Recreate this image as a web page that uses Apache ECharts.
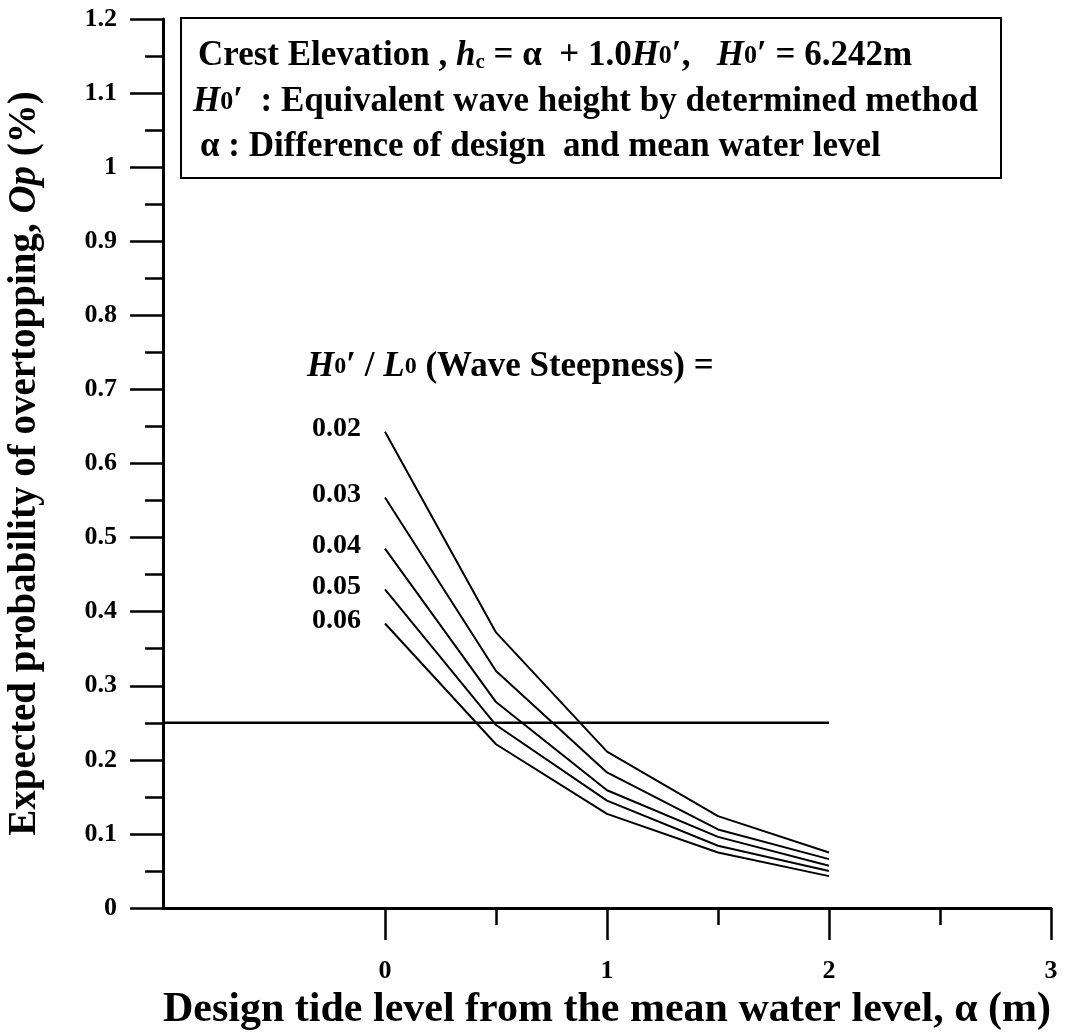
<!DOCTYPE html>
<html><head><meta charset="utf-8">
<script src="https://cdn.jsdelivr.net/npm/echarts@6/dist/echarts.min.js"></script>
<style>html,body{margin:0;padding:0;background:#fff}#c{width:1072px;height:1036px}</style>
</head><body><div id="c"></div>
<script>
// ---- data ----
const alphaValues = [0, 0.5, 1, 1.5, 2];
const steepness = ['0.02', '0.03', '0.04', '0.05', '0.06'];
const op002 = [0.643, 0.372, 0.211, 0.124, 0.075];
const op003 = [0.554, 0.320, 0.183, 0.106, 0.066];
const op004 = [0.485, 0.278, 0.159, 0.096, 0.057];
const op005 = [0.430, 0.247, 0.145, 0.084, 0.050];
const op006 = [0.384, 0.221, 0.127, 0.075, 0.043];
const thresholdValue = 0.25;
const thresholdRange = [-1, 2];
const xMajorTicks = [0, 1, 2, 3];
const xMinorTicks = [0.5, 1.5, 2.5];
const xRange = [-1, 3];
const yRange = [0, 1.2];

const F = "'Liberation Serif','Times New Roman',Times,serif";
const seriesValues = [op002, op003, op004, op005, op006];

const lineSeries = seriesValues.map((vals, k) => ({
  name: steepness[k],
  type: 'line',
  symbol: 'circle',
  symbolSize: 0,
  showSymbol: true,
  lineStyle: { color: '#000', width: 2 },
  itemStyle: { color: '#000' },
  label: {
    show: false, position: 'left', distance: 24, offset: [0, -3],
    formatter: p => p.seriesName,
    fontFamily: F, fontWeight: 'bold', fontSize: 28, color: '#000'
  },
  emphasis: { disabled: true },
  data: alphaValues.map((a, i) => i === 0 ? { value: [a, vals[i]], label: { show: true } } : [a, vals[i]])
}));

const txt = (size) => ({ fontFamily: F, fontWeight: 'bold', fontSize: size, color: '#000' });
const boxRich = {
  n: txt(35),
  i: Object.assign(txt(35), { fontStyle: 'italic' }),
  s: Object.assign(txt(21), { verticalAlign: 'bottom', padding: [10, 0, 0, 0] }),
  z: txt(26)
};

const option = {
  animation: false,
  backgroundColor: '#fff',
  grid: { left: 163, right: 21, top: 19, bottom: 128, outerBoundsMode: 'none', containLabel: false },
  xAxis: [{
    type: 'value', min: xRange[0], max: xRange[1], interval: 1,
    axisLine: { show: true, onZero: false, lineStyle: { color: '#000', width: 3 } },
    axisTick: { show: true, customValues: xMajorTicks, length: 32, lineStyle: { color: '#000', width: 2.5 } },
    axisLabel: { show: true, customValues: xMajorTicks, margin: 50, fontFamily: F, fontWeight: 'bold', fontSize: 26, color: '#000' },
    splitLine: { show: false },
    name: 'Design tide level from the mean water level, α (m)',
    nameLocation: 'middle', nameGap: 80,
    nameTextStyle: { fontFamily: F, fontWeight: 'bold', fontSize: 42, color: '#000' }
  }, {
    type: 'value', min: xRange[0], max: xRange[1], interval: 1, position: 'bottom',
    axisLine: { show: false, onZero: false },
    axisTick: { show: true, customValues: xMinorTicks, length: 17, lineStyle: { color: '#000', width: 2.5 } },
    axisLabel: { show: false },
    splitLine: { show: false }
  }],
  yAxis: {
    type: 'value', min: yRange[0], max: yRange[1], interval: 0.1,
    axisLine: { show: true, onZero: false, lineStyle: { color: '#000', width: 3 } },
    axisTick: { show: true, length: 33, lineStyle: { color: '#000', width: 2.5 } },
    minorTick: { show: true, splitNumber: 2, length: 18, lineStyle: { color: '#000', width: 2.5 } },
    axisLabel: { margin: 46, fontFamily: F, fontWeight: 'bold', fontSize: 26, color: '#000' },
    splitLine: { show: false },
    name: 'Expected probability of overtopping, {i|Op} (%)',
    nameLocation: 'middle', nameGap: 119,
    nameTextStyle: {
      fontFamily: F, fontWeight: 'bold', fontSize: 39, color: '#000',
      rich: { i: { fontFamily: F, fontWeight: 'bold', fontStyle: 'italic', fontSize: 39, color: '#000' } }
    }
  },
  series: [{
    name: 'threshold', type: 'line', symbolSize: 0, showSymbol: false,
    lineStyle: { color: '#000', width: 2.5 }, emphasis: { disabled: true },
    data: [[thresholdRange[0], thresholdValue], [thresholdRange[1], thresholdValue]]
  }].concat(lineSeries),
  graphic: [
    { type: 'rect', shape: { x: 181, y: 18, width: 820, height: 160 },
      style: { fill: '#fff', stroke: '#000', lineWidth: 2 }, z: 10 },
    { type: 'text', x: 198, y: 56, z: 11,
      style: { text: '{n|Crest Elevation , }{i|h}{s|c}{n| = α  + 1.0}{i|H}{z|0}{n|′,   }{i|H}{z|0}{n|′ = 6.242m}',
        rich: boxRich, verticalAlign: 'middle', fill: '#000' } },
    { type: 'text', x: 193, y: 102, z: 11,
      style: { text: '{i|H}{z|0}{n|′  : Equivalent wave height by determined method}',
        rich: boxRich, verticalAlign: 'middle', fill: '#000' } },
    { type: 'text', x: 200, y: 147, z: 11,
      style: { text: '{n|α : Difference of design  and mean water level}',
        rich: boxRich, verticalAlign: 'middle', fill: '#000' } },
    { type: 'text', x: 307, y: 367, z: 11,
      style: { text: '{i|H}{z|0}{n|′ / }{i|L}{z|0}{n| (Wave Steepness) =}',
        rich: {
          n: txt(35), i: Object.assign(txt(35), { fontStyle: 'italic' }), z: txt(24)
        }, verticalAlign: 'middle', fill: '#000' } }
  ]
};
echarts.init(document.getElementById('c')).setOption(option);
</script></body></html>
